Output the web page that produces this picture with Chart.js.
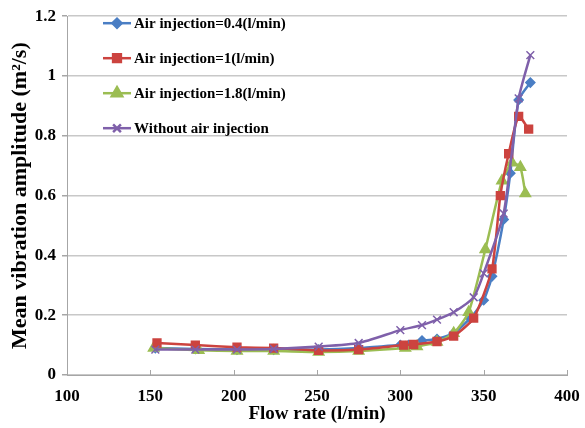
<!DOCTYPE html>
<html>
<head>
<meta charset="utf-8">
<script src="https://cdn.jsdelivr.net/npm/chart.js@4.4.1/dist/chart.umd.min.js"></script>
<style>
  html, body { margin: 0; padding: 0; background: #fff; }
  #wrap { width: 585px; height: 428px; position: relative; }
</style>
</head>
<body>
<div id="wrap"><canvas id="chart"></canvas></div>
<script>
// Flow rate (l/min) and mean vibration amplitude (m2/s) per test case
const air04Flow = [153, 177, 202, 224, 251, 275, 300, 305, 313, 322, 332, 342, 350, 355, 362, 366, 371, 378];
const air04Amp  = [0.09, 0.087, 0.085, 0.085, 0.085, 0.09, 0.1, 0.1, 0.115, 0.12, 0.14, 0.19, 0.25, 0.33, 0.52, 0.675, 0.92, 0.978];

const air1Flow = [154, 177, 202, 224, 251, 275, 302, 308, 322, 332, 344, 355, 360, 365, 371, 377];
const air1Amp  = [0.107, 0.1, 0.093, 0.09, 0.082, 0.085, 0.1, 0.102, 0.112, 0.13, 0.19, 0.355, 0.6, 0.74, 0.865, 0.822];

const air18Flow = [152, 179, 202, 224, 251, 275, 303, 310, 322, 332, 341, 351, 361, 367, 372, 375];
const air18Amp  = [0.09, 0.083, 0.08, 0.08, 0.077, 0.08, 0.09, 0.095, 0.11, 0.14, 0.21, 0.42, 0.65, 0.71, 0.695, 0.607];

const noAirFlow = [153, 177, 202, 224, 251, 275, 300, 313, 322, 332, 344, 350, 362, 371, 378];
const noAirAmp  = [0.085, 0.085, 0.085, 0.087, 0.095, 0.107, 0.15, 0.167, 0.185, 0.21, 0.26, 0.34, 0.54, 0.925, 1.07];

const seriesLabels = [
  'Air injection=0.4(l/min)',
  'Air injection=1(l/min)',
  'Air injection=1.8(l/min)',
  'Without air injection'
];

const xTicks = [100, 150, 200, 250, 300, 350, 400];
const yTicks = [0, 0.2, 0.4, 0.6, 0.8, 1, 1.2];
const yTickLabels = ['0', '0.2', '0.4', '0.6', '0.8', '1', '1.2'];

const FONT = '"Liberation Serif", "Times New Roman", serif';

function toPoints(xs, ys) {
  return xs.map((x, i) => ({ x: x, y: ys[i] }));
}

function series(label, xs, ys, color, pointStyle, radius, order) {
  return {
    label: label,
    data: toPoints(xs, ys),
    borderColor: color,
    backgroundColor: color,
    pointBackgroundColor: color,
    pointBorderColor: color,
    pointStyle: pointStyle,
    pointRadius: radius,
    pointBorderWidth: 1.5,
    borderWidth: 2.5,
    tension: 0.2,
    order: order
  };
}

// Legend drawn inside the plot: line + marker + bold label
const innerLegend = {
  id: 'innerLegend',
  afterDatasetsDraw(chart) {
    const ctx = chart.ctx;
    const area = chart.chartArea;
    ctx.save();
    ctx.font = 'bold 15px ' + FONT;
    ctx.textBaseline = 'middle';
    chart.data.datasets.forEach((ds, i) => {
      const y = area.top + 7 + i * 35;
      const x0 = area.left + 36;
      const x1 = x0 + 28;
      ctx.strokeStyle = ds.borderColor;
      ctx.lineWidth = 2.5;
      ctx.beginPath();
      ctx.moveTo(x0, y);
      ctx.lineTo(x1, y);
      ctx.stroke();
      if (Chart.helpers && Chart.helpers.drawPoint) {
        ctx.fillStyle = ds.borderColor;
        Chart.helpers.drawPoint(ctx, {
          pointStyle: ds.pointStyle,
          radius: ds.pointRadius,
          rotation: 0,
          borderWidth: ds.pointBorderWidth
        }, (x0 + x1) / 2, y);
      }
      ctx.fillStyle = '#000';
      ctx.fillText(ds.label, x1 + 3, y + 1);
    });
    ctx.restore();
  }
};

// Short x-axis tick marks pointing up into the plot
const innerTicks = {
  id: 'innerTicks',
  afterDraw(chart) {
    const ctx = chart.ctx;
    const xs = chart.scales.x;
    const bottom = chart.chartArea.bottom;
    ctx.save();
    ctx.strokeStyle = '#a6a6a6';
    ctx.lineWidth = 1;
    xTicks.forEach(v => {
      const px = Math.round(xs.getPixelForValue(v)) + 0.5;
      ctx.beginPath();
      ctx.moveTo(px, bottom);
      ctx.lineTo(px, bottom - 5);
      ctx.stroke();
    });
    ctx.restore();
  }
};

const chart = new Chart(document.getElementById('chart'), {
  type: 'line',
  data: {
    datasets: [
      series(seriesLabels[0], air04Flow, air04Amp, '#4a7ec4', 'rectRot', 4.5, 3),
      series(seriesLabels[1], air1Flow, air1Amp, '#cc433f', 'rect', 5.5, 1),
      series(seriesLabels[2], air18Flow, air18Amp, '#9bbd52', 'triangle', 6, 2),
      series(seriesLabels[3], noAirFlow, noAirAmp, '#7f60aa', 'crossRot', 5.5, 0)
    ]
  },
  options: {
    responsive: true,
    maintainAspectRatio: false,
    animation: false,
    layout: {
      padding: { top: 13, right: 18, left: 0, bottom: 0 }
    },
    plugins: {
      legend: { display: false },
      tooltip: { enabled: false }
    },
    scales: {
      x: {
        type: 'linear',
        min: 100,
        max: 400,
        afterBuildTicks: s => { s.ticks = xTicks.map(v => ({ value: v })); },
        afterFit: s => { s.height = 53; },
        grid: { display: false },
        border: { display: true, color: '#a6a6a6', width: 1 },
        ticks: {
          color: '#000',
          padding: 3,
          maxRotation: 0,
          font: { family: FONT, size: 17, weight: 'bold' }
        },
        title: {
          display: true,
          text: 'Flow rate (l/min)',
          color: '#000',
          padding: { top: 0, bottom: 3 },
          font: { family: FONT, size: 19, weight: 'bold' }
        }
      },
      y: {
        min: 0,
        max: 1.2,
        afterBuildTicks: s => { s.ticks = yTicks.map(v => ({ value: v })); },
        afterFit: s => { s.width = 67; },
        grid: {
          color: '#c8c8c8',
          lineWidth: 1.5,
          tickLength: 5,
          tickColor: '#a6a6a6'
        },
        border: { display: true, color: '#a6a6a6', width: 1 },
        ticks: {
          color: '#000',
          padding: 6,
          font: { family: FONT, size: 17, weight: 'bold' },
          callback: (v, i) => yTickLabels[i]
        },
        title: {
          display: true,
          text: 'Mean vibration amplitude (m\u00b2/s)',
          color: '#000',
          padding: { top: 7, bottom: 0 },
          font: { family: FONT, size: 22, weight: 'bold' }
        }
      }
    }
  },
  plugins: [innerLegend, innerTicks]
});
</script>
</body>
</html>
